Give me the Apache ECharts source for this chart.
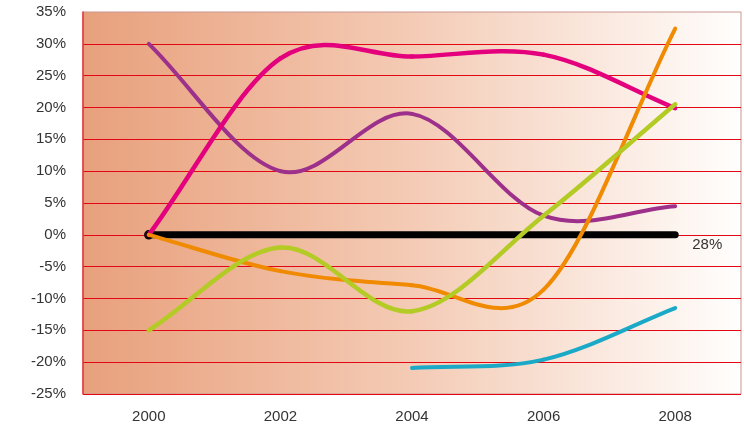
<!DOCTYPE html>
<html><head><meta charset="utf-8">
<script src="https://cdn.jsdelivr.net/npm/echarts@6/dist/echarts.min.js"></script>
<style>html,body{margin:0;padding:0;background:#fff}#c{width:744px;height:424px}</style>
</head><body><div id="c"></div>
<script>
var years = [2000, 2002, 2004, 2006, 2008];
var magenta = [0, 27.7, 28, 28.3, 19.9];
var purple = [30, 10, 19, 3, 4.5];
var orange = [0, -5.7, -7.9, -8.6, 32.4];
var green = [-15, -2, -12, 3, 20.5];
var teal = [null, null, -20.9, -19.6, -11.5];
var baseline = [0, 0, 0, 0, 0];
var endLabel = '28%';
var yTicks = {min: -25, max: 35, step: 5};

function pairs(vals) {
  var out = [];
  for (var i = 0; i < years.length; i++) {
    if (vals[i] !== null) out.push([years[i], vals[i]]);
  }
  return out;
}
var font = '"Liberation Sans", Arial, sans-serif';
var chart = echarts.init(document.getElementById('c'), null, {renderer: 'canvas'});

// Smooth curve (Catmull-Rom style, as in the source spreadsheet chart) through the data points,
// positioned through the chart's own coordinate system (api.coord).
function curveSeries(name, vals, color, width, z) {
  var data = pairs(vals);
  return {
    name: name, type: 'custom', data: data, encode: {x: 0, y: 1}, z: z, silent: true,
    renderItem: function (params, api) {
      var i = params.dataIndex;
      if (i >= data.length - 1) return {type: 'group', children: []};
      var pts = data.map(function (d) { return api.coord(d); });
      var n = pts.length;
      function P(k) {
        if (k < 0) return [2 * pts[0][0] - pts[1][0], 2 * pts[0][1] - pts[1][1]];
        if (k > n - 1) return [2 * pts[n - 1][0] - pts[n - 2][0], 2 * pts[n - 1][1] - pts[n - 2][1]];
        return pts[k];
      }
      var p0 = P(i - 1), p1 = P(i), p2 = P(i + 1), p3 = P(i + 2);
      return {
        type: 'bezierCurve',
        shape: {
          x1: p1[0], y1: p1[1], x2: p2[0], y2: p2[1],
          cpx1: p1[0] + (p2[0] - p0[0]) / 6, cpy1: p1[1] + (p2[1] - p0[1]) / 6,
          cpx2: p2[0] - (p3[0] - p1[0]) / 6, cpy2: p2[1] - (p3[1] - p1[1]) / 6
        },
        style: {stroke: color, lineWidth: width, fill: null, lineCap: 'round'}
      };
    }
  };
}
var baseData = pairs(baseline).map(function (p, i) {
  if (i === 0) return {value: p, symbol: 'circle', symbolSize: 8,
    itemStyle: {color: 'rgba(0,0,0,0)', borderColor: '#000', borderWidth: 1.5}};
  return p;
});
chart.setOption({
  animation: false,
  grid: {left: 83, right: 1, top: 12, bottom: 30, show: true, borderWidth: 1, borderColor: '#C99590',
    backgroundColor: new echarts.graphic.LinearGradient(0, 0, 1, 0, [
      {offset: 0, color: '#E8A07C'}, {offset: 0.5, color: '#F4CBB5'}, {offset: 1, color: '#FFFEFD'}])},
  xAxis: {type: 'value', min: 1999, max: 2009, interval: 1,
    axisLine: {show: false}, axisTick: {show: false}, splitLine: {show: false},
    axisLabel: {margin: 15, color: '#333', fontSize: 15, fontFamily: font,
      formatter: function (v) { return (v >= 2000 && v <= 2008 && v % 2 === 0) ? String(v) : ''; }}},
  yAxis: {type: 'value', min: yTicks.min, max: yTicks.max, interval: yTicks.step,
    axisLine: {show: true, lineStyle: {color: '#E8303A', width: 1.5}}, axisTick: {show: false},
    splitLine: {show: true, showMaxLine: false, lineStyle: {color: '#E30613', width: 1.2}},
    axisLabel: {margin: 17, color: '#333', fontSize: 15, fontFamily: font, formatter: '{value}%'}},
  series: [
    {name: 'base', type: 'line', data: baseData, symbol: 'none', smooth: false,
      lineStyle: {color: '#000', width: 7, cap: 'round'}, z: 2, silent: true,
      endLabel: {show: true, formatter: endLabel, distance: 17, offset: [0, 10],
        color: '#333', fontSize: 15, fontFamily: font}},
    curveSeries('teal', teal, '#1AA9C6', 4, 3),
    curveSeries('purple', purple, '#9C308A', 4, 4),
    curveSeries('magenta', magenta, '#E4007D', 4.5, 5),
    curveSeries('orange', orange, '#F08A00', 4, 6),
    curveSeries('green', green, '#B3CB24', 4.5, 7)
  ]
});
</script></body></html>
